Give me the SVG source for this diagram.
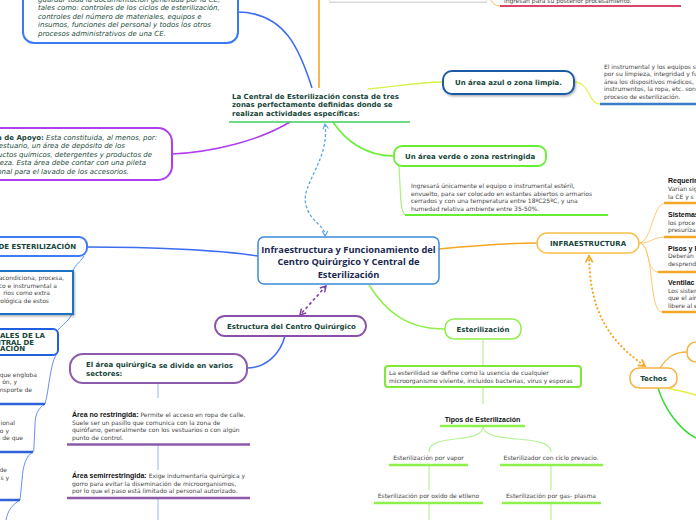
<svg xmlns="http://www.w3.org/2000/svg" width="696" height="520" viewBox="0 0 696 520">
<style>
.tb{font-family:"DejaVu Sans",sans-serif;font-weight:bold;font-size:7px;fill:#17453a}
.bd{font-family:"DejaVu Sans",sans-serif;font-size:6px;fill:#444}
.it{font-family:"DejaVu Sans",sans-serif;font-style:italic;font-size:7px;fill:#1d4d3c}
.lb{font-family:"Liberation Sans",Arial,sans-serif;font-weight:bold;font-size:7px;fill:#111}
.cen{font-family:"Open Sans","DejaVu Sans",sans-serif;font-weight:bold;font-size:9.3px;fill:#1a2950}
.n{fill:#fff}
.c{fill:none}
</style>
<defs>
<filter id="sh" x="-10%" y="-20%" width="130%" height="160%"><feDropShadow dx="1" dy="1.5" stdDeviation="0.8" flood-color="#000" flood-opacity="0.3"/></filter>
<marker id="aB" viewBox="0 0 10 10" refX="8" refY="5" markerWidth="7" markerHeight="7" markerUnits="userSpaceOnUse" orient="auto-start-reverse"><path d="M1,1 L8,5 L1,9" fill="none" stroke="#5aa7e8" stroke-width="1.6"/></marker>
<marker id="aP" viewBox="0 0 10 10" refX="8" refY="5" markerWidth="8" markerHeight="8" markerUnits="userSpaceOnUse" orient="auto-start-reverse"><path d="M1,1 L8,5 L1,9" fill="none" stroke="#7d3fa6" stroke-width="1.8"/></marker>
<marker id="aO" viewBox="0 0 10 10" refX="8" refY="5" markerWidth="9" markerHeight="9" markerUnits="userSpaceOnUse" orient="auto-start-reverse"><path d="M1,1 L8,5 L1,9" fill="none" stroke="#f5a623" stroke-width="1.8"/></marker>
</defs>

<g id="connectors" class="c">
<path d="M319,0 L319,88" stroke="#f5a623" stroke-width="1.6"/>
<path d="M237,12 C 285,12 300,50 312,88" stroke="#3c6cf0" stroke-width="1.5"/>
<path d="M172,154 C 215,152 260,140 290,122" stroke="#b03cf0" stroke-width="1.5"/>
<path d="M368,89 C 400,86 420,82 443,82" stroke="#d8f04a" stroke-width="1.3"/>
<path d="M574,82 C 590,82 588,104 600,104" stroke="#e8f060" stroke-width="1.3"/>
<path d="M333,122 C 345,140 365,156 394,156" stroke="#66ee33" stroke-width="1.5"/>
<path d="M325,124 C 330,160 300,185 306,205 C 310,222 325,225 325,236" stroke="#5aa7e8" stroke-width="1.3" stroke-dasharray="3 2" marker-start="url(#aB)" marker-end="url(#aB)"/>
<path d="M399,166 C 401,200 400,215 407,215" stroke="#a6f07e" stroke-width="1.2"/>
<path d="M87,247 C 150,247 220,250 258,256" stroke="#3c6cf0" stroke-width="1.5"/>
<path d="M439,249 C 470,246 500,243 537,243" stroke="#f5a623" stroke-width="1.5"/>
<path d="M639,243 C 652,243 652,203 666,203" stroke="#ffc870" stroke-width="1"/>
<path d="M639,243 C 652,243 652,237 666,237" stroke="#ffc870" stroke-width="1"/>
<path d="M639,243 C 650,243 646,272 658,272" stroke="#ffc870" stroke-width="1"/>
<path d="M639,243 C 655,243 648,312 662,312" stroke="#ffc870" stroke-width="1"/>
<path d="M589,256 C 590,300 600,335 645,366" stroke="#f5a623" stroke-width="2.2" stroke-linecap="round" stroke-dasharray="0.1 4" marker-start="url(#aO)" marker-end="url(#aO)"/>
<path d="M660,368 C 668,356 675,352 687,352" stroke="#f5b342" stroke-width="1.3"/>
<path d="M666,388 C 675,390 685,392 696,395" stroke="#e6f03c" stroke-width="1.5"/>
<path d="M658,388 C 665,410 680,430 696,438" stroke="#33dd33" stroke-width="1.5"/>
<path d="M326,286 L300,315" stroke="#7d3fa6" stroke-width="1.6" stroke-dasharray="3 2.5" marker-start="url(#aP)" marker-end="url(#aP)"/>
<path d="M369,285 C 385,310 405,329 445,329" stroke="#8ef04a" stroke-width="1.5"/>
<path d="M285,336 C 280,355 265,368 247,368" stroke="#3c6cf0" stroke-width="1.5"/>
<path d="M158,383 L158,398 M158,445 L158,470 M158,499 L158,520" stroke="#9ab5f5" stroke-width="1"/>
<path d="M483,340 L483,366 M483,387 L483,404" stroke="#b8f29a" stroke-width="1.2"/>
<path d="M483,426 C 483,446 429,432 429,452 M483,426 C 483,446 551,432 551,452" stroke="#b8f29a" stroke-width="1.2"/>
<path d="M429,465 L429,490 M551,465 L551,490 M429,503 L429,520 M551,503 L551,520" stroke="#b8f29a" stroke-width="1.2"/>
<path d="M84,256 C 80,263 76,263 73,271 M72,314 C 68,322 63,324 58,330 M56,355 C 50,365 49,390 45,404 M45,404 C 38,408 35,415 35,425 L34,446 Q34,452 33,452 M33,452 C 26,456 23,465 22,480 L20,500 M20,500 C 12,505 8,510 6,520" stroke="#6a8ef5" stroke-width="1"/>
<path d="M488,-5 C 492,3 495,6 500,6" stroke="#f7b760" stroke-width="1"/>
</g>

<g id="n-top-gray"><rect x="327" y="-30" width="162" height="32" rx="6" class="n" stroke="#ddd" stroke-width="1"/><line x1="329" y1="2.5" x2="487" y2="2.5" stroke="#d8d8d8" stroke-width="1.2"/></g>

<g id="n-ingresan">
<text class="bd" x="504" y="2.5">ingresan para su posterior procesamiento.</text>
<line x1="500" y1="6" x2="681" y2="6" stroke="#d9466a" stroke-width="2.2"/>
</g>

<g id="n-documentacion">
<rect x="23" y="-25" width="215" height="68" rx="11" class="n" stroke="#3b7bf2" stroke-width="2"/>
<text class="it" x="38" y="1.8">guardar toda la documentación generada por la CE,</text>
<text class="it" x="38" y="9.8">tales como: controles de los ciclos de esterilización,</text>
<text class="it" x="38" y="18.5">controles del número de materiales, equipos e</text>
<text class="it" x="38" y="27.3">insumos, funciones del personal y todos los otros</text>
<text class="it" x="38" y="35.9">procesos administrativos de una CE.</text>
</g>

<g id="n-central-zonas">
<text class="tb" x="232" y="98.5">La Central de Esterilización consta de tres</text>
<text class="tb" x="232" y="107">zonas perfectamente definidas donde se</text>
<text class="tb" x="232" y="115.5">realizan actividades específicas:</text>
<line x1="229" y1="122" x2="410" y2="122" stroke="#3ccf5e" stroke-width="1.5"/>
</g>

<g id="n-azul">
<rect x="443" y="71" width="131" height="23" rx="9" class="n" stroke="#1d5aa6" stroke-width="2" filter="url(#sh)"/>
<text class="tb" x="508.5" y="85" text-anchor="middle">Un área azul o zona limpia.</text>
</g>

<g id="n-instrumental">
<text class="bd" x="604" y="68.7">El instrumental y los equipos s</text>
<text class="bd" x="604" y="76.2">por su limpieza, integridad y fu</text>
<text class="bd" x="604" y="83.8">área los dispositivos médicos, l</text>
<text class="bd" x="604" y="91.4">instrumentos, la ropa, etc. son</text>
<text class="bd" x="604" y="99.2">proceso de esterilización.</text>
<line x1="600" y1="104" x2="700" y2="104" stroke="#3a7cc8" stroke-width="2.5"/>
</g>

<g id="n-apoyo">
<rect x="-20" y="128" width="192" height="52" rx="14" class="n" stroke="#b03cf0" stroke-width="2"/>
<text class="it" x="157" y="139.6" text-anchor="end"><tspan class="tb" font-style="normal">a de Apoyo:</tspan> Esta constituida, al menos, por:</text>
<text class="it" x="125" y="148.1" text-anchor="end">estuario, un área de depósito de los</text>
<text class="it" x="152" y="157" text-anchor="end">uctos químicos, detergentes y productos de</text>
<text class="it" x="146" y="165.4" text-anchor="end">eza. Esta área debe contar con una pileta</text>
<text class="it" x="129" y="174" text-anchor="end">onal para el lavado de los accesorios.</text>
</g>

<g id="n-verde">
<rect x="394" y="146" width="152" height="20" rx="8" class="n" stroke="#66ee33" stroke-width="1.8"/>
<text class="tb" x="405" y="158.7">Un área verde o zona restringida</text>
</g>

<g id="n-ingresara">
<text class="bd" x="411" y="188">Ingresará únicamente el equipo o instrumental estéril,</text>
<text class="bd" x="411" y="195.6">envuelto, para ser colocado en estantes abiertos o armarios</text>
<text class="bd" x="411" y="203.3">cerrados y con una temperatura entre 18ºC25ºC, y una</text>
<text class="bd" x="411" y="211">humedad relativa ambiente entre 35-50%.</text>
<line x1="405" y1="215" x2="608" y2="215" stroke="#66ee33" stroke-width="2.2"/>
</g>

<g id="n-main">
<rect x="258" y="237" width="181" height="47" rx="6" class="n" stroke="#3d8ad6" stroke-width="1.5"/>
<text class="cen" x="348.5" y="252.5" text-anchor="middle">Infraestructura  y Funcionamiento del</text>
<text class="cen" x="348.5" y="265" text-anchor="middle">Centro Quirúrgico Y Central de</text>
<text class="cen" x="348.5" y="277.5" text-anchor="middle">Esterilización</text>
</g>

<g id="n-infra">
<rect x="537" y="233" width="102" height="20" rx="10" class="n" stroke="#f7c04a" stroke-width="1.5"/>
<text class="tb" x="588" y="245.6" text-anchor="middle">INFRAESTRUCTURA</text>
</g>

<g id="n-requerim">
<text class="lb" x="668" y="182.5">Requerim</text>
<text class="bd" x="668" y="190.8">Varían sig</text>
<text class="bd" x="668" y="198.5">la CE y s</text>
<line x1="664" y1="203" x2="700" y2="203" stroke="#f5a623" stroke-width="2.5"/>
</g>
<g id="n-sistemas">
<text class="lb" x="668" y="216.5">Sistemas</text>
<text class="bd" x="668" y="224.7">los proce</text>
<text class="bd" x="668" y="231.5">presuriza</text>
<line x1="664" y1="237" x2="700" y2="237" stroke="#f5a623" stroke-width="2.5"/>
</g>
<g id="n-pisos">
<text class="lb" x="668" y="250.5">Pisos y F</text>
<text class="bd" x="668" y="258.2">Deberán</text>
<text class="bd" x="668" y="266">desprend</text>
<line x1="658" y1="272" x2="700" y2="272" stroke="#f5a623" stroke-width="2.5"/>
</g>
<g id="n-ventilac">
<text class="lb" x="668" y="285">Ventilac</text>
<text class="bd" x="668" y="292.7">Los sistem</text>
<text class="bd" x="668" y="300.3">que el air</text>
<text class="bd" x="668" y="307.8">libere al e</text>
<line x1="662" y1="312" x2="700" y2="312" stroke="#f5a623" stroke-width="2.5"/>
</g>

<g id="n-techos">
<rect x="630" y="368" width="47" height="20" rx="9" class="n" stroke="#f5b342" stroke-width="1.5"/>
<text class="tb" x="653.5" y="380.6" text-anchor="middle">Techos</text>
</g>
<g id="n-right-partial"><rect x="687" y="342" width="30" height="20" rx="9" class="n" stroke="#f5b342" stroke-width="1.5"/></g>

<g id="n-de-esterilizacion">
<rect x="-20" y="237" width="107" height="19" rx="8" class="n" stroke="#3d7cf2" stroke-width="2"/>
<text class="tb" x="76" y="249.2" text-anchor="end">DE ESTERILIZACIÓN</text>
</g>

<g id="n-acondiciona">
<rect x="-5" y="271" width="78" height="43" class="n" stroke="#1f73c6" stroke-width="2" filter="url(#sh)"/>
<text class="bd" x="64" y="280.3" text-anchor="end">acondiciona, procesa,</text>
<text class="bd" x="57" y="287.7" text-anchor="end">co e instrumental a</text>
<text class="bd" x="50" y="295" text-anchor="end">rios como extra</text>
<text class="bd" x="49" y="302.7" text-anchor="end">ológica de estos</text>
</g>

<g id="n-funcionales">
<rect x="-10" y="329" width="68" height="26" rx="5" class="n" stroke="#2060e0" stroke-width="2"/>
<text class="tb" x="45" y="338" text-anchor="end" font-size="5.8">ONALES DE LA</text>
<text class="tb" x="34" y="344.6" text-anchor="end" font-size="5.8">ENTRAL DE</text>
<text class="tb" x="25" y="351.4" text-anchor="end" font-size="5.8">IZACIÓN</text>
</g>

<g id="n-engloba">
<text class="bd" x="37" y="377" text-anchor="end">que engloba</text>
<text class="bd" x="17" y="384.4" text-anchor="end">ón, y</text>
<text class="bd" x="32" y="391.5" text-anchor="end">nsporte de</text>
<line x1="-2" y1="404" x2="45" y2="404" stroke="#2d62d8" stroke-width="2.5"/>
</g>
<g id="n-ional">
<text class="bd" x="15" y="425.3" text-anchor="end">ional</text>
<text class="bd" x="9" y="432.7" text-anchor="end">o y</text>
<text class="bd" x="23" y="440.3" text-anchor="end">n de que</text>
<line x1="-2" y1="452" x2="33" y2="452" stroke="#2d62d8" stroke-width="2.5"/>
</g>
<g id="n-de">
<text class="bd" x="7" y="472" text-anchor="end">de</text>
<text class="bd" x="9" y="480.3" text-anchor="end">s y</text>
<line x1="-2" y1="500" x2="20" y2="500" stroke="#2d62d8" stroke-width="2.5"/>
</g>

<g id="n-estructura">
<rect x="215" y="316" width="151" height="20" rx="10" class="n" stroke="#8a4fa8" stroke-width="1.8"/>
<text class="tb" x="227" y="329">Estructura del Centro Quirúrgico</text>
</g>

<g id="n-area-quirurgica">
<rect x="70" y="354" width="177" height="29" rx="13" class="n" stroke="#8e5aad" stroke-width="2"/>
<text class="tb" x="86" y="367.3" font-size="7.2">El área quirúrgic<tspan dy="0.8">a se divide en varios</tspan></text>
<text class="tb" x="86" y="376.2" font-size="7.2">sectores:</text>
</g>

<g id="n-no-restringida">
<text x="72" y="416.5"><tspan class="lb">Área no restringida: </tspan><tspan class="bd">Permite el acceso en ropa de calle.</tspan></text>
<text class="bd" x="72" y="424.5">Suele ser un pasillo que comunica con la zona de</text>
<text class="bd" x="72" y="432">quirófano, generalmente con los vestuarios o con algún</text>
<text class="bd" x="72" y="439.6">punto de control.</text>
<line x1="67" y1="444.5" x2="250" y2="444.5" stroke="#8d5aa8" stroke-width="2.5"/>
</g>

<g id="n-semirrestringida">
<text x="72" y="477.5"><tspan class="lb">Área semirrestringida: </tspan><tspan class="bd">Exige indumentaria quirúrgica y</tspan></text>
<text class="bd" x="72" y="485.6">gorro para evitar la diseminación de microorganismos,</text>
<text class="bd" x="72" y="493">por lo que el paso está limitado al personal autorizado.</text>
<line x1="67" y1="498" x2="250" y2="498" stroke="#8d5aa8" stroke-width="2.5"/>
</g>

<g id="n-esterilizacion">
<rect x="445" y="319" width="76" height="20" rx="9" class="n" stroke="#8ef04a" stroke-width="1.5"/>
<text class="tb" x="483" y="331.6" text-anchor="middle">Esterilización</text>
</g>

<g id="n-esterilidad">
<rect x="385" y="366" width="196" height="21" rx="3" class="n" stroke="#80e838" stroke-width="2"/>
<text class="bd" x="389" y="374.8">La esterilidad se define como la usencia de cualquier</text>
<text class="bd" x="389" y="382.8">microorganismo viviente, incluidos bacterias, virus y esporas</text>
</g>

<g id="n-tipos">
<text class="lb" x="482.5" y="421.7" text-anchor="middle">Tipos de Esterilización</text>
<line x1="440" y1="426" x2="525" y2="426" stroke="#8ef04a" stroke-width="2.5"/>
</g>
<g id="n-vapor">
<text class="bd" x="428.5" y="460.4" text-anchor="middle">Esterilización por vapor</text>
<line x1="389" y1="465" x2="468" y2="465" stroke="#8ef04a" stroke-width="2.5"/>
</g>
<g id="n-prevacio">
<text class="bd" x="551" y="460.4" text-anchor="middle">Esterilizador con ciclo prevacio.</text>
<line x1="500" y1="465" x2="603" y2="465" stroke="#8ef04a" stroke-width="2.5"/>
</g>
<g id="n-oxido">
<text class="bd" x="428.5" y="498.2" text-anchor="middle">Esterilización por oxido de etileno</text>
<line x1="374" y1="503" x2="483" y2="503" stroke="#8ef04a" stroke-width="2.5"/>
</g>
<g id="n-plasma">
<text class="bd" x="551" y="498.2" text-anchor="middle">Esterilización por gas- plasma</text>
<line x1="502" y1="503" x2="601" y2="503" stroke="#8ef04a" stroke-width="2.5"/>
</g>
</svg>
